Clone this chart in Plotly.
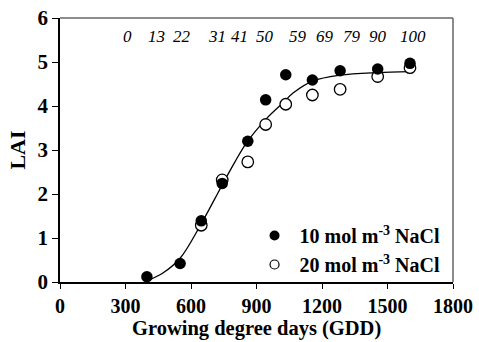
import plotly.graph_objects as go

# Data
gdd_10 = [398, 550, 647, 743, 860, 942, 1034, 1156, 1283, 1455, 1603]
lai_10 = [0.12, 0.42, 1.39, 2.24, 3.20, 4.14, 4.71, 4.59, 4.80, 4.84, 4.97]

gdd_20 = [647, 743, 860, 942, 1034, 1156, 1283, 1455, 1603]
lai_20 = [1.29, 2.32, 2.73, 3.58, 4.04, 4.25, 4.38, 4.67, 4.87]

# Fitted curve
fit_gdd = [404, 473, 550, 641, 710, 740, 800, 855, 947, 1023, 1069, 1160, 1283, 1451, 1603]
fit_lai = [0.04, 0.21, 0.54, 1.27, 1.90, 2.18, 2.72, 3.17, 3.72, 4.08, 4.30, 4.57, 4.70, 4.76, 4.78]

# Top labels (percent values) and their GDD positions
top_labels = ["0", "13", "22", "31", "41", "50", "59", "69", "79", "90", "100"]
top_label_x = [311, 444, 559, 719, 824, 939, 1090, 1214, 1338, 1457, 1617]

x_ticks = [0, 300, 600, 900, 1200, 1500, 1800]
y_ticks = [0, 1, 2, 3, 4, 5, 6]

FONT = "Liberation Serif, Times New Roman, serif"

fig = go.Figure()
fig.add_trace(go.Scatter(x=fit_gdd, y=fit_lai, mode="lines", line=dict(color="black", width=1.3, shape="spline"),
                         showlegend=False, hoverinfo="skip"))
fig.add_trace(go.Scatter(x=gdd_20, y=lai_20, mode="markers", showlegend=False,
                         marker=dict(symbol="circle", size=11.5, color="white", line=dict(color="black", width=1.3))))
fig.add_trace(go.Scatter(x=gdd_10, y=lai_10, mode="markers", showlegend=False,
                         marker=dict(symbol="circle", size=11.5, color="black", line=dict(color="black", width=0))))
# legend entries (smaller symbols, as in the reference)
fig.add_trace(go.Scatter(x=[None], y=[None], mode="markers", name="&nbsp;10 mol m<sup>-3</sup> NaCl",
                         marker=dict(symbol="circle", size=10, color="black", line=dict(width=0))))
fig.add_trace(go.Scatter(x=[None], y=[None], mode="markers", name="&nbsp;20 mol m<sup>-3</sup> NaCl",
                         marker=dict(symbol="circle", size=9, color="white", line=dict(color="black", width=1.2))))

for t, x in zip(top_labels, top_label_x):
    fig.add_annotation(x=x, y=5.57, text=t, showarrow=False, xref="x", yref="y",
                       font=dict(family=FONT, size=17, color="black", style="italic"))

# x-axis title
fig.add_annotation(x=0.5, y=-0.176, xref="paper", yref="paper", text="Growing degree days (GDD)",
                   showarrow=False, xanchor="center", yanchor="middle",
                   font=dict(family=FONT, size=20.5, color="black", weight="bold"))

# frame top/right
fig.add_shape(type="line", xref="paper", yref="paper", x0=0, x1=1, y0=1, y1=1, line=dict(color="#666", width=1.5))
fig.add_shape(type="line", xref="paper", yref="paper", x0=1, x1=1, y0=0, y1=1, line=dict(color="#666", width=1.5))

fig.update_layout(
    template="none",
    width=479, height=342,
    margin=dict(l=60, r=26, t=18, b=60, autoexpand=False),
    paper_bgcolor="white", plot_bgcolor="white",
    font=dict(family=FONT, color="black"),
    legend=dict(x=0.495, y=0.25, xanchor="left", yanchor="top",
                font=dict(family=FONT, size=20, color="black", weight="bold"),
                bgcolor="rgba(0,0,0,0)", itemwidth=30, tracegroupgap=0),
    xaxis=dict(range=[0, 1800], tickvals=x_ticks, ticks="outside", ticklen=5, tickwidth=1.3,
               tickcolor="black", showline=True, linecolor="black", linewidth=1.5,
               showgrid=False, zeroline=False, automargin=False,
               tickfont=dict(family=FONT, size=20, color="black", weight="bold")),
    yaxis=dict(range=[0, 6], tickvals=y_ticks, ticks="outside", ticklen=6, tickwidth=1.3,
               tickcolor="black", showline=True, linecolor="black", linewidth=1.5,
               showgrid=False, zeroline=False, automargin=False,
               tickfont=dict(family=FONT, size=21, color="black", weight="bold"),
               title=dict(text="LAI", standoff=6,
                          font=dict(family=FONT, size=22, color="black", weight="bold"))),
)

fig.write_html("out.html", config={"displayModeBar": False},
               post_script="document.body.style.margin='0';document.body.style.overflow='hidden';")
